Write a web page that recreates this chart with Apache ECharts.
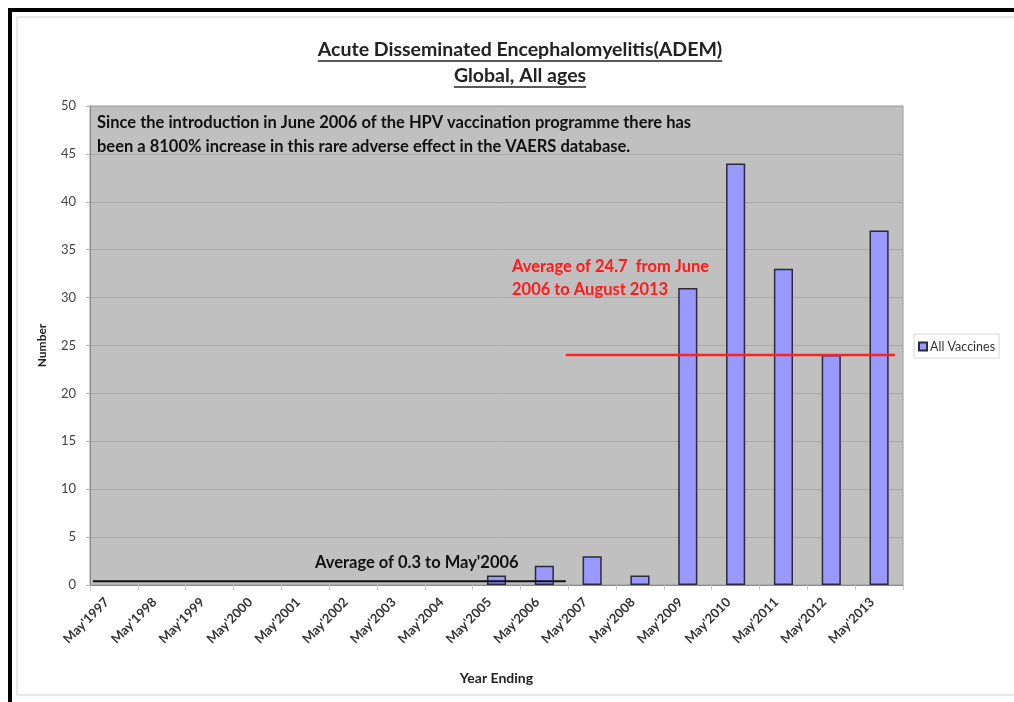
<!DOCTYPE html>
<html>
<head>
<meta charset="utf-8">
<script src="https://cdn.jsdelivr.net/npm/echarts@6/dist/echarts.min.js"></script>
<style>
  html, body { margin: 0; padding: 0; background: #fff; }
  #myChart { width: 1014px; height: 702px; }
</style>
</head>
<body>
<div id="myChart"></div>
<script>
// categories and counts
const years = ["May'1997", "May'1998", "May'1999", "May'2000", "May'2001", "May'2002",
  "May'2003", "May'2004", "May'2005", "May'2006", "May'2007", "May'2008", "May'2009",
  "May'2010", "May'2011", "May'2012", "May'2013"];
const allVaccines = [0, 0, 0, 0, 0, 0, 0, 0, 1, 2, 3, 1, 31, 44, 33, 24, 37];
const yTicks = { min: 0, max: 50, interval: 5 };

// average lines (x in category units on a hidden value axis)
const avgBefore = [[0.06, 0.4], [9.95, 0.4]];
const avgAfter = [[9.95, 24], [16.83, 24]];

const titleLines = ['Acute Disseminated Encephalomyelitis(ADEM)', 'Global, All ages'];
const noteText = 'Since the introduction in June 2006 of the HPV vaccination programme there has\nbeen a 8100% increase in this rare adverse effect in the VAERS database.';
const redNote = 'Average of 24.7  from June\n2006 to August 2013';
const blackNote = "Average of 0.3 to May'2006";

const FONT = 'Lato, "Open Sans", sans-serif';

// measure text so the title underlines fit
function textWidth(txt, size) {
  const c = document.createElement('canvas').getContext('2d');
  c.font = 'bold ' + size + 'px ' + FONT;
  return c.measureText(txt).width;
}

const myChart = echarts.init(document.getElementById('myChart'));

const cx = 520;
const titleSize = 19.5;
const titleY = [50, 76];
const underlines = titleLines.map((t, i) => {
  const w = textWidth(t, titleSize);
  return {
    type: 'line',
    shape: { x1: cx - w / 2, y1: titleY[i] + 11, x2: cx + w / 2, y2: titleY[i] + 11 },
    style: { stroke: '#222', lineWidth: 1.5 }
  };
});

// empty years draw no bar at all
const barData = allVaccines.map(v => v === 0 ? { value: v, itemStyle: { borderWidth: 0 } } : v);

myChart.setOption({
  backgroundColor: '#fff',
  animation: false,
  textStyle: { fontFamily: FONT },
  graphic: [
    // outer black frame (top + left only)
    { type: 'rect', shape: { x: 8, y: 8, width: 1006, height: 4 }, style: { fill: '#000' } },
    { type: 'rect', shape: { x: 8, y: 8, width: 4, height: 694 }, style: { fill: '#000' } },
    // chart area border
    { type: 'rect', shape: { x: 17, y: 17, width: 1010, height: 678 },
      style: { fill: 'none', stroke: '#e2e2e2', lineWidth: 1.5 } },
    { type: 'text', x: cx, y: titleY[0], style: { text: titleLines[0], font: 'bold ' + titleSize + 'px ' + FONT,
      fill: '#222', align: 'center', verticalAlign: 'middle' } },
    { type: 'text', x: cx, y: titleY[1], style: { text: titleLines[1], font: 'bold ' + titleSize + 'px ' + FONT,
      fill: '#222', align: 'center', verticalAlign: 'middle' } },
    ...underlines,
    { type: 'text', x: 97, y: 111, z: 10, style: { text: noteText, font: 'bold 16.5px ' + FONT,
      fill: '#111', lineHeight: 24 } },
    { type: 'text', x: 512, y: 255, z: 10, style: { text: redNote, font: 'bold 16.5px ' + FONT,
      fill: '#ff1a1a', lineHeight: 23 } },
    { type: 'text', x: 315, y: 563, z: 10, style: { text: blackNote, font: 'bold 16.5px ' + FONT,
      fill: '#111', verticalAlign: 'middle' } }
  ],
  legend: {
    data: ['All Vaccines'],
    left: 914,
    top: 334,
    itemWidth: 8,
    itemHeight: 8,
    itemGap: 4,
    padding: [6, 4, 5, 4],
    icon: 'rect',
    borderColor: '#d6d6d6',
    borderWidth: 1,
    textStyle: { fontSize: 12.5, color: '#333', fontFamily: FONT, padding: [0, 0, 0, -2] }
  },
  grid: {
    left: 90, right: 111, top: 106, bottom: 117,
    show: true,
    backgroundColor: '#c0c0c0',
    borderColor: '#9a9a9a',
    borderWidth: 1
  },
  xAxis: [{
    type: 'category',
    data: years,
    name: 'Year Ending',
    nameLocation: 'middle',
    nameGap: 86,
    nameTextStyle: { fontWeight: 'bold', fontSize: 14, color: '#222', fontFamily: FONT },
    axisLine: { lineStyle: { color: '#8a8a8a', width: 1 } },
    axisTick: { show: true, length: 5, lineStyle: { color: '#c8c8c8' } },
    axisLabel: { rotate: 45, fontSize: 13, color: '#333', margin: 8, interval: 0,
      padding: [0, 10, 0, 0], fontFamily: FONT, fontWeight: 'bold' },
    splitLine: { show: false }
  }, {
    type: 'value',
    min: 0,
    max: 17,
    show: false
  }],
  yAxis: {
    type: 'value',
    min: yTicks.min,
    max: yTicks.max,
    interval: yTicks.interval,
    name: 'Number',
    nameLocation: 'middle',
    nameGap: 42,
    nameTextStyle: { fontWeight: 'bold', fontSize: 12, color: '#222', fontFamily: FONT },
    axisLine: { show: true, lineStyle: { color: '#8a8a8a' } },
    axisTick: { show: true, length: 4, lineStyle: { color: '#b0b0b0' } },
    axisLabel: { fontSize: 13, color: '#444', margin: 14, fontFamily: FONT },
    splitLine: { show: true, lineStyle: { color: '#a9a9a9', width: 1 } }
  },
  series: [
    {
      name: 'All Vaccines',
      type: 'bar',
      data: barData,
      barWidth: '40%',
      itemStyle: { color: '#9999ff', borderColor: '#2b2b3a', borderWidth: 1.5 }
    },
    {
      name: 'avgBefore',
      type: 'line',
      xAxisIndex: 1,
      data: avgBefore,
      symbol: 'none',
      silent: true,
      z: 5,
      lineStyle: { color: '#111', width: 2 }
    },
    {
      name: 'avgAfter',
      type: 'line',
      xAxisIndex: 1,
      data: avgAfter,
      symbol: 'none',
      silent: true,
      z: 5,
      lineStyle: { color: '#ff2020', width: 2.5 }
    }
  ]
});
</script>
</body>
</html>
